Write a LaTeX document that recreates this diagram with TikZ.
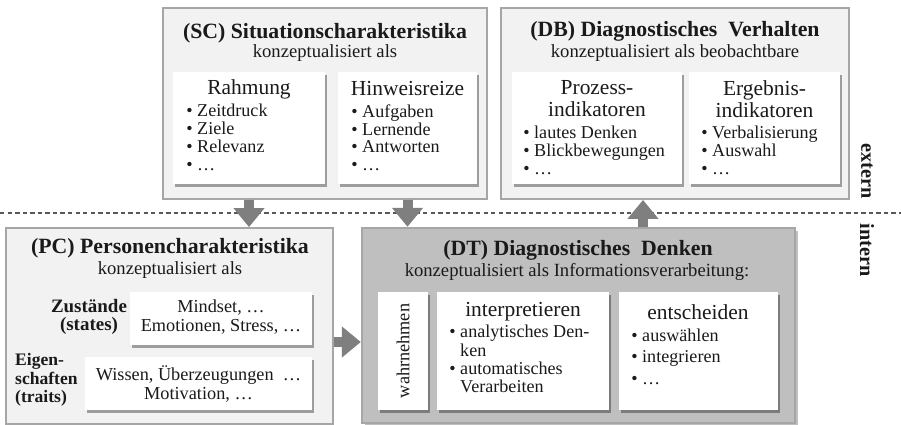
\documentclass[tikz,border=0pt]{standalone}
\usepackage{fontspec}
\setmainfont{Liberation Serif}
\usetikzlibrary{arrows.meta, shadows, positioning, calc}
\definecolor{ink}{HTML}{1A1A1A}
\definecolor{panelfill}{HTML}{F2F2F2}
\definecolor{panelborder}{HTML}{A6A6A6}
\definecolor{thinkfill}{HTML}{BFBFBF}
\definecolor{arrowgray}{HTML}{7F7F7F}
\definecolor{cutgray}{HTML}{595959}
\tikzset{
  panel/.style={rectangle, draw=panelborder, fill=panelfill, line width=1.1pt, inner sep=0pt},
  thinkpanel/.style={panel, fill=thinkfill, line width=1.4pt,
                     drop shadow={shadow xshift=1.6pt, shadow yshift=-1.6pt, fill=black, opacity=0.25}},
  card/.style={rectangle, fill=white, inner sep=0pt,
               drop shadow={shadow xshift=1.2pt, shadow yshift=-1.5pt, fill=black, opacity=0.35}},
  paneltitle/.style={font=\fontsize{12.4}{13}\selectfont\bfseries, text=ink},
  subtitle/.style={font=\fontsize{10.6}{11}\selectfont, text=ink},
  cardhead/.style={font=\fontsize{12.2}{12.6}\selectfont, text=ink, align=center},
  items/.style={font=\fontsize{10.3}{10.2}\selectfont, text=ink, align=left, anchor=north west, inner sep=0pt},
  cardtext/.style={font=\fontsize{10.4}{11.3}\selectfont, text=ink, align=center},
  side/.style={font=\fontsize{10.8}{10.6}\selectfont\bfseries, text=ink},
  bigarrow/.style={-{Triangle[width=0.6cm, length=0.38cm]}, line width=0.2cm, draw=arrowgray},
  cutline/.style={draw=cutgray, line width=0.6pt, dash pattern=on 2.5pt off 1.8pt},
}
\def\bul{\textbullet\ }

\begin{document}
\begin{tikzpicture}[x=0.02cm, y=-0.02cm]
\useasboundingbox (0,0) rectangle (901,425);

% extern / intern border
\coordinate (cutL) at (0,213);
\coordinate (cutR) at (901,213);
\draw[cutline] (cutL) -- (cutR);
\node[side, font=\fontsize{11.5}{11}\selectfont\bfseries, rotate=-90] (extern) at (867,171) {extern};
\node[side, font=\fontsize{11.5}{11}\selectfont\bfseries, rotate=-90] (intern) at (867,250) {intern};

% Situation (SC)
\node[panel, minimum width=6.48cm, minimum height=3.82cm] (sc) at (325,103.5) {};
\node[paneltitle] (sctitle) at (325,33) {(SC) Situationscharakteristika};
\node[subtitle] (scsub) at (325,53) {konzeptualisiert als};
\node[card, minimum width=3.04cm, minimum height=2.24cm] (rahmung) at (249,128) {};
\node[cardhead] at (249,89) {Rahmung};
\node[items] at (186,104) {\bul Zeitdruck\\\bul Ziele\\\bul Relevanz\\\bul \dots};
\node[card, minimum width=2.78cm, minimum height=2.24cm] (hinweis) at (407.5,128) {};
\node[cardhead] at (407.5,89) {Hinweisreize};
\node[items] at (351,104) {\bul Aufgaben\\\bul Lernende\\\bul Antworten\\\bul \dots};

% Behaviour (DB)
\node[panel, minimum width=6.96cm, minimum height=3.82cm] (db) at (675,103.5) {};
\node[paneltitle] (dbtitle) at (675,31) {(DB) Diagnostisches\ \ Verhalten};
\node[subtitle] (dbsub) at (675,53) {konzeptualisiert als beobachtbare};
\node[card, minimum width=3.4cm, minimum height=2.24cm] (prozess) at (597,128) {};
\node[cardhead] at (597,99) {Prozess-\\indikatoren};
\node[items] at (523,126) {\bul lautes Denken\\\bul Blickbewegungen\\\bul \dots};
\node[card, minimum width=3.02cm, minimum height=2.24cm] (ergebnis) at (764.5,128) {};
\node[cardhead] at (764.5,99) {Ergebnis-\\indikatoren};
\node[items] at (701,126) {\bul Verbalisierung\\\bul Auswahl\\\bul \dots};

% Person (PC)
\node[panel, minimum width=6.54cm, minimum height=3.92cm] (pc) at (169.5,326) {};
\node[paneltitle] (pctitle) at (170,248) {(PC) Personencharakteristika};
\node[subtitle] (pcsub) at (170,270) {konzeptualisiert als};
\node[side, align=center] (states) at (89,317) {Zustände\\(states)};
\node[card, minimum width=3.64cm, minimum height=1.06cm] (mindset) at (221,318.5) {};
\node[cardtext] at (221,317) {Mindset, \dots\\Emotionen, Stress, \dots};
\node[side, align=left, anchor=west, font=\fontsize{10}{10.6}\selectfont\bfseries] (traits) at (9,380) {Eigen-\\schaften\\(traits)};
\node[card, minimum width=4.54cm, minimum height=1.06cm] (wissen) at (198.5,383.5) {};
\node[cardtext] at (198.5,384) {Wissen, Überzeugungen\ \ \dots\\Motivation, \dots};

% Thinking (DT)
\node[thinkpanel, minimum width=8.66cm, minimum height=3.9cm] (dt) at (578.5,325.5) {};
\node[paneltitle] (dttitle) at (578,250) {(DT) Diagnostisches\ \ Denken};
\node[subtitle] (dtsub) at (577,272) {konzeptualisiert als Informationsverarbeitung:};
\node[card, minimum width=1.0cm, minimum height=2.36cm] (wahrn) at (403,351) {};
\node[cardtext, rotate=90] at (403,351) {wahrnehmen};
\node[card, minimum width=3.44cm, minimum height=2.36cm] (interp) at (523,351) {};
\node[cardhead] at (523,312) {interpretieren};
\node[items, font=\fontsize{10.3}{10.4}\selectfont] at (449,325)
  {\bul analytisches Den-\\\phantom{\bul}ken\\\bul automatisches\\\phantom{\bul}Verarbeiten};
\node[card, minimum width=3.18cm, minimum height=2.36cm] (entsch) at (698,351) {};
\node[cardhead] at (698,312) {entscheiden};
\node[items, font=\fontsize{10.3}{12}\selectfont] at (631,329) {\bul auswählen\\\bul integrieren\\\bul \dots};

% Flow
\coordinate (upx) at (643,0);
\coordinate (righty) at (0,342);
\draw[bigarrow] (rahmung.south |- sc.south) -- (rahmung.south |- pc.north);
\draw[bigarrow] (hinweis.south |- sc.south) -- (hinweis.south |- dt.north);
\draw[bigarrow] (dt.north -| upx) -- (db.south -| upx);
\draw[bigarrow] (pc.east |- righty) -- (dt.west |- righty);

\end{tikzpicture}
\end{document}
